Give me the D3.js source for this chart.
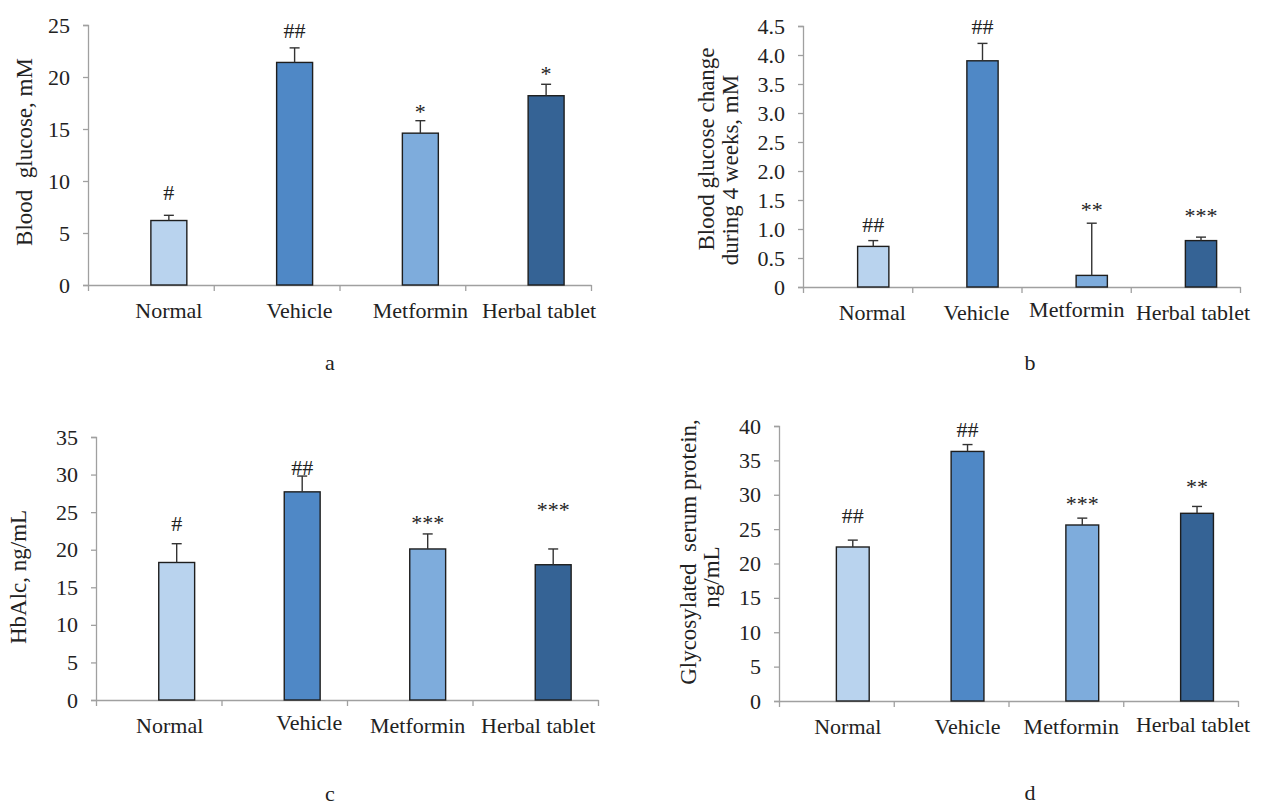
<!DOCTYPE html>
<html><head><meta charset="utf-8">
<script src="https://cdn.jsdelivr.net/npm/d3@7/dist/d3.min.js"></script>
<style>
body{margin:0;background:#fff}
svg text{font-family:"Liberation Serif","Times New Roman",serif;fill:#222}
</style>
</head><body>
<svg id="chart" width="1266" height="805"></svg>
<script>
// ---------- data ----------
const categories = ["Normal", "Vehicle", "Metformin", "Herbal tablet"];
const barColors = ["#b9d3ee", "#4f88c6", "#7eacdc", "#356395"];

const glucoseMean = [6.2, 21.4, 14.6, 18.2];
const glucoseErr  = [0.5, 1.4, 1.2, 1.1];
const glucoseMarks = ["#", "##", "*", "*"];
const glucoseMarkAt = [8.85, 24.5, 17.0, 20.6];
const glucoseTicks = [0, 5, 10, 15, 20, 25];

const changeMean = [0.7, 3.9, 0.2, 0.8];
const changeErr  = [0.1, 0.3, 0.9, 0.06];
const changeMarks = ["##", "##", "**", "***"];
const changeMarkAt = [1.07, 4.5, 1.38, 1.29];
const changeTicks = [0, 0.5, 1.0, 1.5, 2.0, 2.5, 3.0, 3.5, 4.0, 4.5];

const hba1cMean = [18.3, 27.7, 20.1, 18.0];
const hba1cErr  = [2.5, 2.1, 2.0, 2.1];
const hba1cMarks = ["#", "##", "***", "***"];
const hba1cMarkAt = [23.45, 30.95, 24.0, 25.75];
const hba1cTicks = [0, 5, 10, 15, 20, 25, 30, 35];

const gspMean = [22.4, 36.3, 25.6, 27.3];
const gspErr  = [1.0, 1.0, 1.0, 1.0];
const gspMarks = ["##", "##", "***", "**"];
const gspMarkAt = [27.0, 39.5, 29.2, 31.7];
const gspTicks = [0, 5, 10, 15, 20, 25, 30, 35, 40];

// ---------- layout ----------
const FS = 22;
const FSY = 23;
const panels = [
  {mean: glucoseMean, err: glucoseErr, marks: glucoseMarks, markAt: glucoseMarkAt, ticks: glucoseTicks,
   fmt: d3.format("d"), left: 88, right: 591, top: 25, bottom: 285,
   labelDx: [0, 5, 0, -7], labelDy: [0, 0, 0, 0], ylab: [{t: "Blood  glucose, mM", x: 24, y: 152}],
   letter: {t: "a", x: 330, y: 362}},
  {mean: changeMean, err: changeErr, marks: changeMarks, markAt: changeMarkAt, ticks: changeTicks,
   fmt: v => v === 0 ? "0" : v.toFixed(1), left: 803, right: 1240, top: 26, bottom: 287,
   labelDx: [-1, -6, -15, -8], labelDy: [0, 0, -3, 0], ylab: [{t: "Blood glucose change", x: 706, y: 149}, {t: "during 4 weeks, mM", x: 730, y: 170}],
   letter: {t: "b", x: 1030, y: 362}},
  {mean: hba1cMean, err: hba1cErr, marks: hba1cMarks, markAt: hba1cMarkAt, ticks: hba1cTicks,
   fmt: d3.format("d"), left: 96, right: 598, top: 437, bottom: 700,
   labelDx: [-7, 7, -10, -15], labelDy: [0, -3, 0, 0], ylab: [{t: "HbAlc, ng/mL", x: 18, y: 577}],
   letter: {t: "c", x: 330, y: 793}},
  {mean: gspMean, err: gspErr, marks: gspMarks, markAt: gspMarkAt, ticks: gspTicks,
   fmt: d3.format("d"), left: 779, right: 1238, top: 426, bottom: 701,
   labelDx: [-5, 0, -11, -4], labelDy: [0, 0, 0, -2], ylab: [{t: "Glycosylated  serum protein,", x: 688, y: 552}, {t: "ng/mL", x: 711, y: 577}],
   letter: {t: "d", x: 1030, y: 792}}
];

const svg = d3.select("#chart");

panels.forEach(p => {
  const g = svg.append("g");
  const yMax = p.ticks[p.ticks.length - 1];
  const y = d3.scaleLinear().domain([0, yMax]).range([p.bottom, p.top]);
  const xb = d3.scaleBand().domain(categories).range([p.left, p.right]).padding(0);
  const bw = xb.bandwidth();
  const barW = bw * 0.286;
  const cx = c => xb(c) + bw * 0.5 + barW / 2;

  // y axis
  const ya = g.append("g").attr("transform", `translate(${p.left},0)`)
    .call(d3.axisLeft(y).tickValues(p.ticks).tickFormat(p.fmt).tickSize(5).tickPadding(13));
  ya.attr("font-family", null).attr("font-size", null);
  ya.select(".domain").attr("stroke", "#a0a0a0").attr("stroke-width", 1.3);
  ya.selectAll(".tick line").attr("stroke", "#a0a0a0").attr("stroke-width", 1.3);
  ya.selectAll(".tick text").attr("font-size", FS).attr("fill", "#222");

  // x axis: ticks at category boundaries
  const xl = d3.scaleLinear().domain([0, categories.length]).range([p.left, p.right]);
  const xa = g.append("g").attr("transform", `translate(0,${p.bottom})`)
    .call(d3.axisBottom(xl).tickValues(d3.range(categories.length + 1)).tickFormat("").tickSize(6).tickSizeOuter(0));
  xa.select(".domain").attr("stroke", "#a0a0a0").attr("stroke-width", 1.3);
  xa.selectAll(".tick line").attr("stroke", "#a0a0a0").attr("stroke-width", 1.3);

  // bars
  g.selectAll("rect.bar").data(categories).join("rect")
    .attr("x", c => xb(c) + bw * 0.5)
    .attr("width", barW)
    .attr("y", (c, i) => y(p.mean[i]))
    .attr("height", (c, i) => p.bottom - y(p.mean[i]))
    .attr("fill", (c, i) => barColors[i])
    .attr("stroke", "#1e1e1e").attr("stroke-width", 1.4);

  // error bars
  const eb = g.selectAll("g.err").data(categories).join("g");
  eb.append("line")
    .attr("x1", c => cx(c)).attr("x2", c => cx(c))
    .attr("y1", (c, i) => y(p.mean[i])).attr("y2", (c, i) => y(p.mean[i] + p.err[i]))
    .attr("stroke", "#333").attr("stroke-width", 1.4);
  eb.append("line")
    .attr("x1", c => cx(c) - 5).attr("x2", c => cx(c) + 5)
    .attr("y1", (c, i) => y(p.mean[i] + p.err[i])).attr("y2", (c, i) => y(p.mean[i] + p.err[i]))
    .attr("stroke", "#333").attr("stroke-width", 1.4);

  // significance marks
  g.selectAll("text.mark").data(categories).join("text")
    .attr("x", c => cx(c))
    .attr("y", (c, i) => y(p.markAt[i]) + (p.marks[i].startsWith("*") ? 3 : 0))
    .attr("text-anchor", "middle").attr("dominant-baseline", "central")
    .attr("font-size", FS)
    .text((c, i) => p.marks[i]);

  // category labels
  g.selectAll("text.cat").data(categories).join("text")
    .attr("x", (c, i) => cx(c) + p.labelDx[i])
    .attr("y", (c, i) => p.bottom + 25 + p.labelDy[i])
    .attr("text-anchor", "middle").attr("dominant-baseline", "central")
    .attr("font-size", FS)
    .text(c => c);

  // y label(s)
  p.ylab.forEach(l => {
    g.append("text")
      .attr("transform", `translate(${l.x},${l.y}) rotate(-90)`)
      .attr("text-anchor", "middle").attr("dominant-baseline", "central")
      .attr("font-size", FSY)
      .style("white-space", "pre")
      .text(l.t);
  });

  // panel letter
  g.append("text").attr("x", p.letter.x).attr("y", p.letter.y)
    .attr("text-anchor", "middle").attr("dominant-baseline", "central")
    .attr("font-size", FS).text(p.letter.t);
});
</script>
</body></html>
